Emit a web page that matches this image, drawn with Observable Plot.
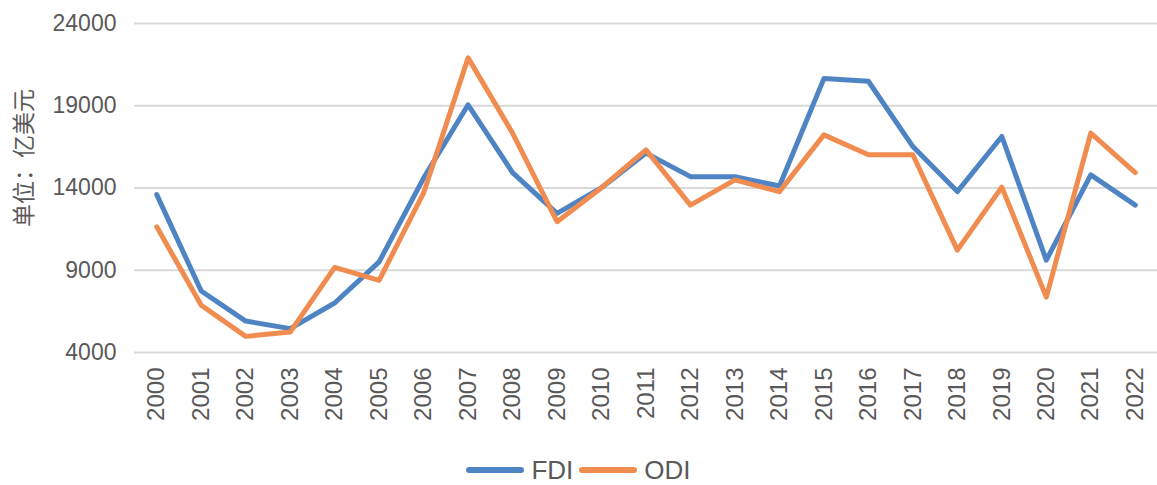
<!DOCTYPE html>
<html>
<head>
<meta charset="utf-8">
<script src="https://cdn.jsdelivr.net/npm/d3@7"></script>
<script src="https://cdn.jsdelivr.net/npm/@observablehq/plot@0.6"></script>
<style>
  body { margin: 0; background: #fff; font-family: "Liberation Sans", Arial, "Noto Sans CJK SC", sans-serif; }
  #legend { display: flex; justify-content: center; align-items: center; height: 44px; color: #595959; font-size: 26px; }
  #legend .item { display: flex; align-items: center; margin: 0 3px; }
  #legend .sw { width: 58px; height: 6px; border-radius: 3px; margin-right: 7px; }
</style>
</head>
<body>
<div id="chart"></div>
<div id="legend"></div>
<script>
const years = ["2000","2001","2002","2003","2004","2005","2006","2007","2008","2009","2010","2011","2012","2013","2014","2015","2016","2017","2018","2019","2020","2021","2022"];
const fdi = [13600, 7740, 5910, 5450, 7010, 9510, 14600, 19060, 14940, 12460, 14020, 16120, 14690, 14690, 14120, 20650, 20490, 16520, 13780, 17130, 9610, 14800, 12960];
const odi = [11640, 6870, 4980, 5240, 9170, 8390, 13700, 21910, 17340, 11950, 14020, 16320, 12960, 14490, 13780, 17230, 16020, 16020, 10220, 14050, 7370, 17340, 14940];
const seriesNames = ["FDI", "ODI"];
const seriesColors = ["#4f84c4", "#f08c50"];
const yTicks = [4000, 9000, 14000, 19000, 24000];
const yLabel = "单位：亿美元";

const data = [];
years.forEach((y, i) => {
  data.push({year: y, value: fdi[i], series: "FDI"});
  data.push({year: y, value: odi[i], series: "ODI"});
});

const chart = Plot.plot({
  width: 1157,
  height: 448,
  marginLeft: 134,
  marginRight: 0,
  marginTop: 23,
  marginBottom: 96,
  style: { fontFamily: '"Liberation Sans", Arial, "Noto Sans CJK SC", sans-serif', color: "#595959", background: "#fff" },
  x: { type: "point", domain: years, padding: 0.5, round: false },
  y: { domain: [4000, 24000] },
  color: { domain: seriesNames, range: seriesColors },
  marks: [
    Plot.ruleY(yTicks, { stroke: "#d9d9d9", strokeWidth: 2 }),
    Plot.axisY(yTicks, { tickSize: 0, tickPadding: 18, fontSize: 23, fill: "#595959", tickFormat: d => String(d), label: null }),
    Plot.text([yLabel], { frameAnchor: "left", textAnchor: "middle", rotate: -90, dx: -110, dy: -30, fontSize: 23, fill: "#595959",
      fontFamily: '"Noto Sans CJK SC", sans-serif' }),
    Plot.axisX({ tickRotate: -90, tickSize: 0, tickPadding: 15, fontSize: 24, fill: "#595959", label: null }),
    Plot.line(data, { x: "year", y: "value", z: "series", stroke: "series", strokeWidth: 5, strokeLinejoin: "round", strokeLinecap: "round" })
  ]
});
document.getElementById("chart").appendChild(chart);

const legend = document.getElementById("legend");
seriesNames.forEach((name, i) => {
  const item = document.createElement("div");
  item.className = "item";
  const sw = document.createElement("div");
  sw.className = "sw";
  sw.style.background = seriesColors[i];
  const t = document.createElement("span");
  t.textContent = name;
  item.appendChild(sw);
  item.appendChild(t);
  legend.appendChild(item);
});
</script>
</body>
</html>
